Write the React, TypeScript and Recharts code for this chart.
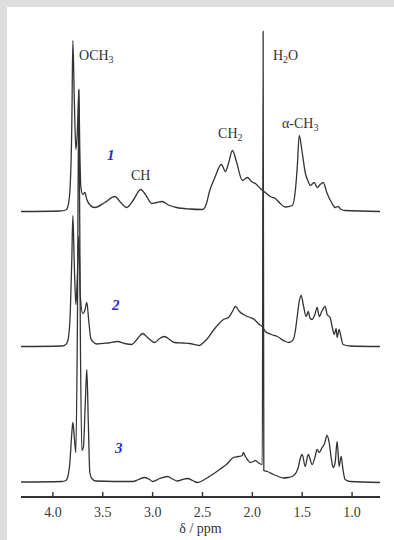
import React from "react";
import { LineChart, Line, XAxis, YAxis, ReferenceDot } from "recharts";

// chemical shift (ppm), intensity above own baseline
const spectrum1: [number, number][] = [
  [4.32, 0], [3.93, 0.5], [3.87, 1.5], [3.85, 5], [3.83, 20], [3.81, 90], [3.8, 171], [3.785, 110],
  [3.77, 62], [3.755, 80], [3.74, 121], [3.73, 60], [3.72, 25], [3.7, 17], [3.68, 19], [3.66, 12],
  [3.64, 8], [3.58, 4], [3.48, 9], [3.38, 15], [3.32, 9], [3.26, 4], [3.19, 12], [3.12, 22],
  [3.06, 15], [3.01, 8], [2.96, 9], [2.91, 10], [2.83, 6], [2.76, 4], [2.63, 2.5], [2.5, 2],
  [2.46, 8], [2.43, 20], [2.38, 33], [2.31, 47], [2.27, 40], [2.24, 48], [2.2, 61], [2.16, 50],
  [2.1, 31], [2.05, 34], [2.01, 30], [1.97, 28], [1.92, 23], [1.87, 19], [1.82, 15], [1.77, 13],
  [1.72, 8], [1.67, 4.5], [1.6, 6], [1.57, 20], [1.55, 44], [1.53, 76], [1.5, 59], [1.47, 39],
  [1.44, 30], [1.42, 26], [1.38, 29], [1.35, 24], [1.32, 27], [1.29, 29], [1.25, 18], [1.2, 8],
  [1.17, 4], [1.14, 5], [1.11, 2], [1.07, 1], [0.72, 0],
];

const spectrum2: [number, number][] = [
  [4.32, 0], [3.91, 0.5], [3.87, 2], [3.85, 6], [3.83, 25], [3.81, 90], [3.8, 131], [3.785, 80],
  [3.77, 42], [3.755, 70], [3.74, 110], [3.725, 50], [3.7, 33], [3.68, 36], [3.66, 44], [3.64, 25],
  [3.62, 8], [3.59, 4], [3.56, 2.5], [3.45, 3.5], [3.35, 5], [3.28, 3], [3.21, 2], [3.15, 8],
  [3.1, 13], [3.04, 8], [2.98, 4], [2.93, 8], [2.88, 10], [2.83, 7], [2.78, 4], [2.7, 3.5],
  [2.63, 3], [2.53, 1], [2.49, 4], [2.45, 8], [2.4, 15], [2.36, 20], [2.29, 27], [2.24, 29],
  [2.2, 35], [2.17, 40], [2.13, 35], [2.09, 32], [2.05, 30], [2.02, 29], [1.98, 27], [1.96, 25],
  [1.93, 22], [1.9, 20], [1.87, 15], [1.81, 12], [1.75, 10], [1.67, 5], [1.63, 4], [1.59, 7],
  [1.57, 15], [1.55, 30], [1.53, 45], [1.51, 51], [1.49, 42], [1.46, 30], [1.44, 35], [1.42, 28],
  [1.4, 27], [1.37, 33], [1.35, 39], [1.33, 30], [1.3, 36], [1.27, 40], [1.25, 32], [1.22, 29],
  [1.2, 20], [1.18, 12], [1.16, 18], [1.15, 9], [1.13, 17], [1.11, 9], [1.09, 2], [1.02, 0.5],
  [0.72, 0],
];

const spectrum3: [number, number][] = [
  [4.32, 0.5], [3.91, 1], [3.87, 2], [3.85, 6], [3.83, 20], [3.81, 50], [3.8, 60], [3.785, 45],
  [3.77, 30], [3.755, 150], [3.74, 393], [3.725, 150], [3.71, 32], [3.695, 35], [3.675, 80],
  [3.66, 113], [3.645, 60], [3.63, 10], [3.61, 4], [3.57, 1.5], [3.2, 1], [3.14, 3], [3.08, 5],
  [3.03, 3], [3.0, 1], [2.93, 4], [2.85, 6], [2.8, 3.5], [2.75, 1.5], [2.7, 3], [2.65, 4],
  [2.6, 2], [2.55, 0], [2.48, 3], [2.4, 8], [2.33, 13], [2.26, 18], [2.19, 25], [2.14, 26],
  [2.1, 27], [2.09, 30], [2.07, 26], [2.05, 23], [2.02, 20], [1.99, 21], [1.97, 22], [1.93, 19],
  [1.9, 18], [1.892, 451], [1.885, 12], [1.85, 11], [1.79, 8], [1.74, 6], [1.69, 4.5], [1.64, 5],
  [1.6, 6], [1.56, 10], [1.54, 15], [1.52, 24], [1.5, 28], [1.47, 16], [1.44, 28], [1.4, 18],
  [1.37, 26], [1.35, 33], [1.33, 30], [1.3, 35], [1.28, 38], [1.25, 47], [1.23, 40], [1.21, 25],
  [1.19, 15], [1.17, 20], [1.15, 41], [1.13, 16], [1.11, 26], [1.09, 12], [1.07, 3], [1.02, 1],
  [0.72, 0],
];

const tickValues = [4.0, 3.5, 3.0, 2.5, 2.0, 1.5, 1.0];

const peakLabels: { text: string; sub?: string; tail?: string; d: number; v: number }[] = [
  { text: "OCH", sub: "3", d: 3.738, v: 437 },
  { text: "H", sub: "2", tail: "O", d: 1.793, v: 437 },
  { text: "α-CH", sub: "3", d: 1.703, v: 369 },
  { text: "CH", sub: "2", d: 2.344, v: 359 },
  { text: "CH", d: 3.217, v: 317 },
];
const traceNumbers: { text: string; d: number; v: number }[] = [
  { text: "1", d: 3.458, v: 337 },
  { text: "2", d: 3.407, v: 187 },
  { text: "3", d: 3.377, v: 44 },
];

const BASELINES = [285.5, 150.5, 14.5];
const SPECTRA = [spectrum1, spectrum2, spectrum3];

const SERIF = '"Liberation Serif", "Times New Roman", serif';
const INK = "#333333";

const Tick = (props: any) => {
  const { x, y, payload } = props;
  return (
    <g>
      <line x1={x} x2={x} y1={y} y2={y - 5} stroke={INK} strokeWidth={1.4} />
      <text x={x} y={y + 20} textAnchor="middle" fontFamily={SERIF} fontSize={14} fill="#3a3a3a">
        {Number(payload.value).toFixed(1)}
      </text>
    </g>
  );
};

export default function App() {
  const series = SPECTRA.map((s, i) => s.map(([d, h]) => ({ d, v: BASELINES[i] + h })));
  return (
    <div style={{ position: "absolute", left: 0, top: 0, width: 394, height: 540, background: "#dddddd" }}>
      <div style={{ position: "absolute", left: 7, top: 7, right: 0, bottom: 0, background: "#ffffff" }} />
      <div style={{ position: "absolute", left: 0, top: 0 }}>
        <LineChart width={394} height={540} margin={{ top: 20, right: 14, left: 21, bottom: 13 }}>
          <XAxis
            dataKey="d"
            type="number"
            domain={[0.72, 4.32]}
            reversed
            allowDataOverflow
            ticks={tickValues}
            tickSize={0}
            tickMargin={0}
            tickLine={false}
            tick={<Tick />}
            height={30}
            axisLine={{ stroke: INK, strokeWidth: 1.8 }}
            label={{
              content: (p: any) => (
                <text
                  x={p.viewBox.x + p.viewBox.width / 2}
                  y={p.viewBox.y + 36}
                  textAnchor="middle"
                  fontFamily={SERIF}
                  fontSize={14}
                  fill="#333"
                >
                  δ / ppm
                </text>
              ),
            }}
          />
          <YAxis type="number" domain={[0, 477]} hide allowDataOverflow />
          {series.map((data, i) => (
            <Line
              key={i}
              data={data}
              dataKey="v"
              type="monotone"
              stroke={INK}
              strokeWidth={1.3}
              dot={false}
              isAnimationActive={false}
            />
          ))}
          {peakLabels.map((l, i) => (
            <ReferenceDot
              key={"p" + i}
              x={l.d}
              y={l.v}
              r={0}
              ifOverflow="visible"
              shape={(p: any) => (
                <text x={p.cx} y={p.cy} fontFamily={SERIF} fontSize={14} fill="#333">
                  {l.text}
                  {l.sub && (
                    <tspan fontSize={10} dy={3}>
                      {l.sub}
                    </tspan>
                  )}
                  {l.tail && <tspan dy={-3}>{l.tail}</tspan>}
                </text>
              )}
            />
          ))}
          {traceNumbers.map((l, i) => (
            <ReferenceDot
              key={"n" + i}
              x={l.d}
              y={l.v}
              r={0}
              ifOverflow="visible"
              shape={(p: any) => (
                <text
                  x={p.cx}
                  y={p.cy}
                  fontFamily={SERIF}
                  fontSize={15}
                  fontStyle="italic"
                  fontWeight="bold"
                  fill="#2b2bc8"
                >
                  {l.text}
                </text>
              )}
            />
          ))}
        </LineChart>
      </div>
    </div>
  );
}
